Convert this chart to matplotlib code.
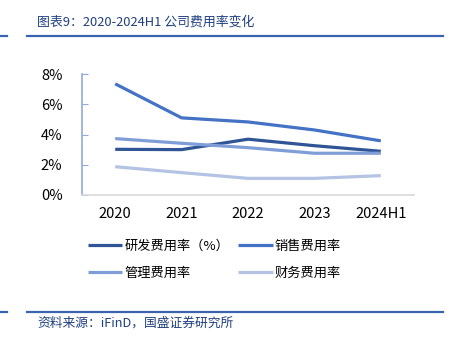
import matplotlib
matplotlib.use("Agg")
import matplotlib.pyplot as plt
from matplotlib.lines import Line2D

plt.rcParams['font.family'] = ['Noto Sans CJK SC', 'DejaVu Sans']

years = ['2020', '2021', '2022', '2023', '2024H1']
rd_rate = [3.02, 3.00, 3.69, 3.26, 2.89]        # 研发费用率
sales_rate = [7.35, 5.10, 4.83, 4.30, 3.58]     # 销售费用率
admin_rate = [3.73, 3.42, 3.13, 2.76, 2.76]     # 管理费用率
fin_rate = [1.87, 1.48, 1.10, 1.10, 1.28]       # 财务费用率

names = ['研发费用率（%）', '销售费用率', '管理费用率', '财务费用率']
colors = ['#2F5597', '#4472C4', '#7F9ED8', '#B4C3E4']

fig = plt.figure(figsize=(4.54, 3.38), dpi=100)
W, H = 454, 338

# header / footer rules and captions
for y in (36, 312):
    fig.add_artist(Line2D([0, 7 / W], [1 - y / H] * 2, color='#3A64B0', lw=1.6))
    fig.add_artist(Line2D([27 / W, 443 / W], [1 - y / H] * 2, color='#3A64B0', lw=1.6))
fig.text(37 / W, 1 - 22 / H, '图表9：2020-2024H1 公司费用率变化', fontsize=9.3,
         style='italic', color='#1F3F7F', va='center')
fig.text(37 / W, 1 - 323 / H, '资料来源：iFinD，国盛证券研究所', fontsize=9.2,
         style='italic', color='#1F3F7F', va='center')

ax = fig.add_axes([82 / W, 1 - 195 / H, (414 - 82) / W, (195 - 74) / H])
x = range(len(years))
series = [rd_rate, sales_rate, admin_rate, fin_rate]
handles = []
for vals, c, n in zip(series, colors, names):
    h, = ax.plot(x, vals, color=c, lw=2.3, label=n, solid_capstyle='butt')
    handles.append(h)

ax.set_xlim(-0.5, len(years) - 0.5)
ax.set_ylim(0, 8)
ax.set_yticks([0, 2, 4, 6, 8])
ax.set_yticklabels([f'{v}%' for v in [0, 2, 4, 6, 8]])
ax.set_xticks(list(x))
ax.set_xticklabels(years)
ax.tick_params(axis='y', direction='in', length=4, color='#8FAADC', labelsize=10.5, pad=14)
ax.tick_params(axis='x', length=0, labelsize=10.5, pad=9)
for s in ('top', 'right'):
    ax.spines[s].set_visible(False)
ax.spines['left'].set_color('#8FAADC')
ax.spines['bottom'].set_color('#D9D9D9')
ax.spines['left'].set_linewidth(1.2)
ax.spines['bottom'].set_linewidth(1.2)

order = [0, 2, 1, 3]
fig.legend([handles[i] for i in order], [names[i] for i in order], ncol=2,
           loc='upper left', bbox_to_anchor=(76 / W, 1 - 228 / H), frameon=False,
           fontsize=9.5, handlelength=2.6, handletextpad=0.15, columnspacing=0.7,
           labelspacing=1.05)

fig.savefig('out.png', dpi=100)
